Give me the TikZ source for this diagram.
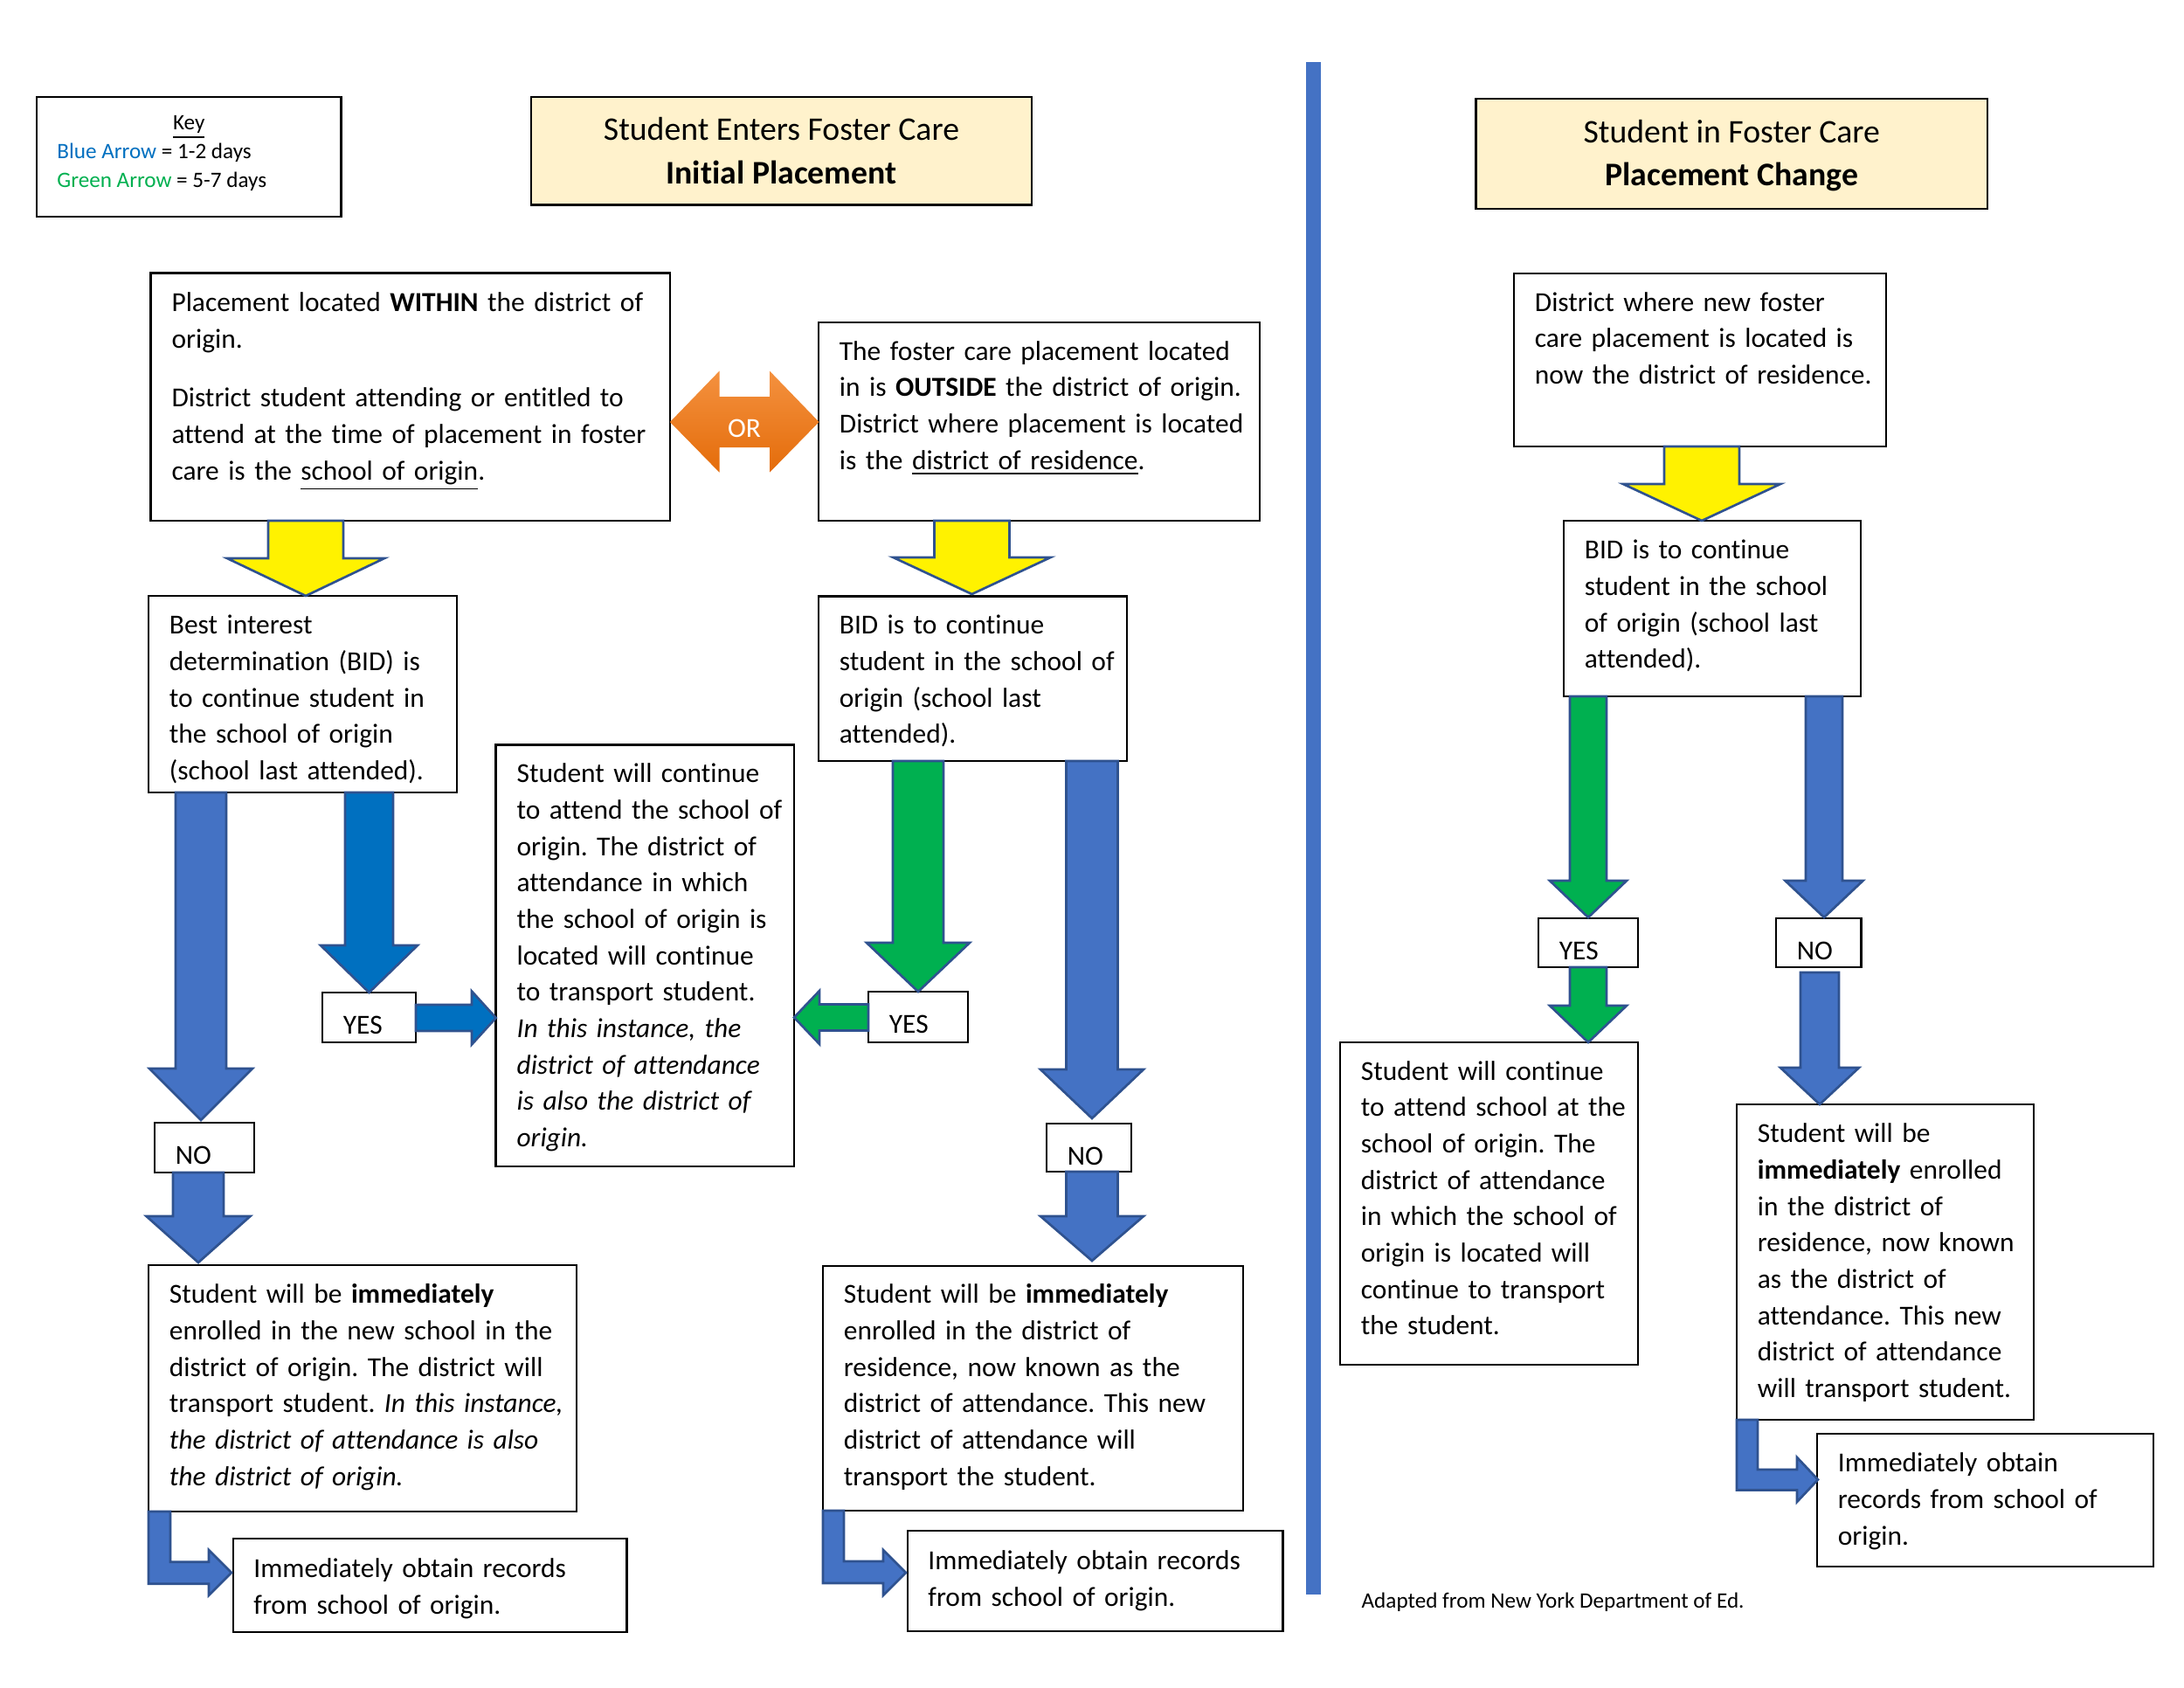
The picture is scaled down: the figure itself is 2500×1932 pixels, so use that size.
\documentclass[tikz,border=0pt]{standalone}
\usepackage{fontspec}
\setmainfont{Carlito}[Ligatures={NoCommon}]
\frenchspacing
\usetikzlibrary{fit}
\definecolor{accblue}{HTML}{4472C4}
\definecolor{arrline}{HTML}{2F528F}
\definecolor{darkblue}{HTML}{0070C0}
\definecolor{accgreen}{HTML}{00B050}
\definecolor{titlefill}{HTML}{FFF2CC}
\definecolor{orangetop}{HTML}{F4913F}
\definecolor{orangebot}{HTML}{E46C0A}
\definecolor{keyblue}{HTML}{0070C0}
\definecolor{keygreen}{HTML}{00B050}
% down block arrow: style, cx, ytop, yhead, ytip, half shaft, half head
\newcommand\DArr[7]{\draw[#1] ({#2-#6},#3) -- ({#2+#6},#3) -- ({#2+#6},#4) -- ({#2+#7},#4) -- (#2,#5) -- ({#2-#7},#4) -- ({#2-#6},#4) -- cycle;}
% horizontal block arrow: style, cy, x0, xhead, xtip, half shaft, half head
\newcommand\HArr[7]{\draw[#1] (#3,{#2-#6}) -- (#4,{#2-#6}) -- (#4,{#2-#7}) -- (#5,#2) -- (#4,{#2+#7}) -- (#4,{#2+#6}) -- (#3,{#2+#6}) -- cycle;}
\tikzset{
  box/.style={draw=black, line width=0.75pt, fill=white, inner sep=0pt},
  titlebox/.style={box, fill=titlefill},
  txt/.style={anchor=base west, inner sep=0pt, text width=400pt, align=left,
    font=\fontsize{9.43}{12.5}\selectfont},
  ttl/.style={anchor=base, inner sep=0pt, font=\fontsize{11.32}{14.9}\selectfont},
  keyf/.style={inner sep=0pt, font=\fontsize{7.55}{9.96}\selectfont},
  yarr/.style={fill=yellow, draw=arrline, line width=0.8pt, line join=miter},
  barr/.style={fill=accblue, draw=arrline, line width=0.8pt, line join=miter},
  dbarr/.style={fill=darkblue, draw=arrline, line width=0.8pt, line join=miter},
  garr/.style={fill=accgreen, draw=arrline, line width=0.8pt, line join=miter},
}
\begin{document}
\begin{tikzpicture}[x=0.3pt, y=-0.3pt]
\useasboundingbox (0,0) rectangle (2500,1932);
\fill[white] (0,0) rectangle (2500,1932);

% separator
\fill[accblue] (1495,71) rectangle (1512,1825);

% key
\node[box, fit={(42,111) (390.6,248)}] (key) {};
\node[keyf, anchor=base] (keyt) at ([shift={(0,38.5)}]key.north) {\underline{Key}};
\node[keyf, anchor=base west] (keyb) at ([shift={(24,71.5)}]key.north west) {\textcolor{keyblue}{Blue Arrow} = 1-2 days};
\node[keyf, anchor=base west] (keyg) at ([shift={(24,104.5)}]key.north west) {\textcolor{keygreen}{Green Arrow} = 5-7 days};

% titles
\node[titlebox, fit={(608,111) (1181,234.6)}] (T1) {};
\node[ttl] (T1a) at ([shift={(0,51)}]T1.north) {Student Enters Foster Care};
\node[ttl] (T1b) at ([shift={(0,100.5)}]T1.north) {\textbf{Initial Placement}};
\node[titlebox, fit={(1689.5,113) (2275,239)}] (T2) {};
\node[ttl] (T2a) at ([shift={(0,51.5)}]T2.north) {Student in Foster Care};
\node[ttl] (T2b) at ([shift={(0,101)}]T2.north) {\textbf{Placement Change}};

% ---------- left part ----------
\node[box, fit={(172.6,312.7) (767,595.8)}] (A) {};
\node[txt] (At) at ([shift={(24.5,45.5)}]A.north west) {Placement located \textbf{WITHIN} the district of\\ origin.\\[7.7pt] District student attending or entitled to\\ attend at the time of placement in foster\\ care is the \underline{school of origin}.};

\node[box, fit={(937,369) (1442,596)}] (B) {};
\node[txt] (Bt) at ([shift={(24.5,44.5)}]B.north west) {The foster care placement located\\ in is \textbf{OUTSIDE} the district of origin.\\ District where placement is located\\ is the \underline{district of residence}.};

% OR double arrow
\shade[top color=orangetop, bottom color=orangebot] (767,483) -- (823.5,424.6) -- (823.5,454) -- (881,454) -- (881,424.6) -- (937.5,483) -- (881,540.7) -- (881,512) -- (823.5,512) -- (823.5,540.7) -- cycle;
\node[anchor=base, inner sep=0pt, text=white, font=\fontsize{9.43}{12.5}\selectfont] (ORt) at (852,500) {OR};

\node[box, fit={(170,682) (523,907)}] (C) {};
\node[txt] (Ct) at ([shift={(24.5,45)}]C.north west) {Best interest\\ determination (BID) is\\ to continue student in\\ the school of origin\\ (school last attended).};

\node[box, fit={(937,682.6) (1290,871)}] (D) {};
\node[txt] (Dt) at ([shift={(24.5,44.5)}]D.north west) {BID is to continue\\ student in the school of\\ origin (school last\\ attended).};

\node[box, fit={(567.7,852.7) (909,1335)}] (E) {};
\node[txt] (Et) at ([shift={(24.5,44.5)}]E.north west) {Student will continue\\ to attend the school of\\ origin. The district of\\ attendance in which\\ the school of origin is\\ located will continue\\ to transport student.\\ \textit{In this instance, the}\\ \textit{district of attendance}\\ \textit{is also the district of}\\ \textit{origin.}};

\node[box, fit={(369,1136) (476,1193)}] (Y1) {};
\node[txt] (Y1t) at ([shift={(24.5,49)}]Y1.north west) {YES};
\node[box, fit={(994,1135) (1108,1193)}] (Y2) {};
\node[txt] (Y2t) at ([shift={(24.5,49)}]Y2.north west) {YES};
\node[box, fit={(177,1285) (291,1342)}] (N1) {};
\node[txt] (N1t) at ([shift={(24.5,49)}]N1.north west) {NO};
\node[box, fit={(1198,1286) (1295,1341)}] (N2) {};
\node[txt] (N2t) at ([shift={(24.5,49)}]N2.north west) {NO};

\node[box, fit={(170,1448) (660,1730)}] (F) {};
\node[txt] (Ft) at ([shift={(24.5,45)}]F.north west) {Student will be \textbf{immediately}\\ enrolled in the new school in the\\ district of origin. The district will\\ transport student. \textit{In this instance,}\\ \textit{the district of attendance is also}\\ \textit{the district of origin.}};

\node[box, fit={(942,1449) (1423,1729)}] (G) {};
\node[txt] (Gt) at ([shift={(24.5,44)}]G.north west) {Student will be \textbf{immediately}\\ enrolled in the district of\\ residence, now known as the\\ district of attendance. This new\\ district of attendance will\\ transport the student.};

\node[box, fit={(267,1761) (717.5,1868)}] (R1) {};
\node[txt] (R1t) at ([shift={(24,46)}]R1.north west) {Immediately obtain records\\ from school of origin.};
\node[box, fit={(1039,1752) (1468.5,1867)}] (R2) {};
\node[txt] (R2t) at ([shift={(24,46)}]R2.north west) {Immediately obtain records\\ from school of origin.};

% arrows left part
\DArr{yarr}{350}{596}{639}{682}{43}{90}
\DArr{yarr}{1112.5}{596}{638}{680}{43}{90}
\DArr{barr}{230}{907}{1223}{1282}{29}{59}
\DArr{dbarr}{422.5}{907}{1082}{1136}{27.5}{55.5}
\DArr{garr}{1051}{871}{1079}{1135}{29}{59}
\DArr{barr}{1250}{871}{1224}{1280}{29.5}{59}
\DArr{barr}{227}{1342}{1392}{1445}{29}{59.5}
\DArr{barr}{1250}{1341}{1392}{1443}{29.5}{59}
\HArr{dbarr}{1165}{476}{540}{567.7}{15}{30.5}
\HArr{garr}{1164.5}{994}{938}{909}{15}{30.5}
\draw[barr] (170,1730) -- (195,1730) -- (195,1787.7) -- (239,1787.7) -- (239,1774) -- (265,1800) -- (239,1826) -- (239,1812.7) -- (170,1812.7) -- cycle;
\draw[barr] (942,1729) -- (966,1729) -- (966,1787) -- (1011,1787) -- (1011,1774) -- (1037,1800) -- (1011,1826) -- (1011,1812) -- (942,1812) -- cycle;

% ---------- right part ----------
\node[box, fit={(1733,313) (2159,511)}] (H) {};
\node[txt] (Ht) at ([shift={(24.5,44.5)}]H.north west) {District where new foster\\ care placement is located is\\ now the district of residence.};

\node[box, fit={(1790,596) (2130,797)}] (I) {};
\node[txt] (It) at ([shift={(24.5,45)}]I.north west) {BID is to continue\\ student in the school\\ of origin (school last\\ attended).};

\node[box, fit={(1761,1051) (1875,1107)}] (Y3) {};
\node[txt] (Y3t) at ([shift={(24.5,49)}]Y3.north west) {YES};
\node[box, fit={(2033,1051) (2130.6,1107)}] (N3) {};
\node[txt] (N3t) at ([shift={(24.5,49)}]N3.north west) {NO};

\node[box, fit={(1534,1193) (1875,1562)}] (J) {};
\node[txt] (Jt) at ([shift={(24.5,44.5)}]J.north west) {Student will continue\\ to attend school at the\\ school of origin. The\\ district of attendance\\ in which the school of\\ origin is located will\\ continue to transport\\ the student.};

\node[box, fit={(1988,1264) (2328,1625)}] (K) {};
\node[txt] (Kt) at ([shift={(24.5,45)}]K.north west) {Student will be\\ \textbf{immediately} enrolled\\ in the district of\\ residence, now known\\ as the district of\\ attendance. This new\\ district of attendance\\ will transport student.};

\node[box, fit={(2080,1641) (2465,1793)}] (R3) {};
\node[txt] (R3t) at ([shift={(24.5,45)}]R3.north west) {Immediately obtain\\ records from school of\\ origin.};

\DArr{yarr}{1948}{511}{554}{596}{43}{90}
\DArr{garr}{1818}{797}{1008}{1050}{21}{44}
\DArr{barr}{2088}{797}{1008}{1050}{21}{44.5}
\DArr{garr}{1818}{1107}{1151}{1193}{21}{44}
\DArr{barr}{2083}{1113}{1222}{1264}{22}{45}
\draw[barr] (1988,1625) -- (2012,1625) -- (2012,1682) -- (2057,1682) -- (2057,1668) -- (2081,1693.5) -- (2057,1719) -- (2057,1705.5) -- (1988,1705.5) -- cycle;

\node[keyf, anchor=base west] (foot) at (1558,1840) {Adapted from New York Department of Ed.};
\end{tikzpicture}
\end{document}
